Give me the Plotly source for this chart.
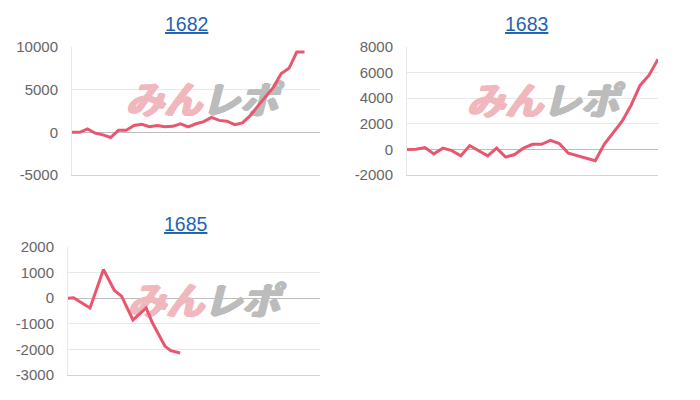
import plotly.graph_objects as go

# the page has an 8px body margin, so the figure is shrunk to fill exactly 700x400
PAD = 8
W, H = 700 - 2 * PAD, 400 - 2 * PAD

LINE_COLOR = '#e9566f'
TICK_COLOR = '#666666'
TITLE_COLOR = '#1f63b0'
GRID = '#e8e8e8'
ZERO = '#bdbdbd'
WM_PINK = '#f0b7bc'
WM_GREY = '#bcbcbc'

# 1682: one point per label, 33 labels on the axis
idx_1682 = list(range(31))
val_1682 = [0, 0, 400, -100, -300, -600, 250, 250, 800, 950, 650, 800, 650, 700, 1000, 650,
            1000, 1250, 1750, 1400, 1300, 900, 1100, 1950, 3100, 4200, 5300, 6900, 7500, 9400, 9400]
ticks_1682 = [-5000, 0, 5000, 10000]

# 1683: 29 labels, filled to the end
idx_1683 = list(range(29))
val_1683 = [0, 20, 150, -350, 100, -100, -500, 300, -100, -500, 100, -600, -400, 100, 400, 400,
            700, 450, -300, -500, -700, -880, 400, 1300, 2200, 3450, 5000, 5800, 7050]
ticks_1683 = [-2000, 0, 2000, 4000, 6000, 8000]

# 1685: positions (same 33-label scale as 1682)
pos_1685 = [0, 0.7, 2.8, 4.5, 5.9, 6.8, 8.25, 9.93, 10.7, 11.5, 12.3, 13.05, 14.25]
val_1685 = [0, 20, -380, 1120, 300, 80, -850, -380, -950, -1400, -1870, -2050, -2140]
ticks_1685 = [-3000, -2000, -1000, 0, 1000, 2000]

charts = [
    # title, x, y, x-range, ticks, plot box (page px: left, right, top, bottom), title x, watermark centre
    ('1682', idx_1682, val_1682, [0, 32], ticks_1682, (72, 320, 47, 175), 186, (202, 104)),
    ('1683', idx_1683, val_1683, [0, 28], ticks_1683, (407, 658, 47, 175), 526, (543, 105)),
    ('1685', pos_1685, val_1685, [0, 32], ticks_1685, (68, 320, 247, 375), 186, (204, 305)),
]


def px(v):
    return (v - PAD) / W


def py(v):
    return 1 - (v - PAD) / H


def wm_font(color, size=38):
    thick = ', '.join(f'{dx}px {dy}px 0 {color}' for dx, dy in
                      [(0.7, 0), (-0.7, 0), (0, 0.7), (0, -0.7), (1.4, 0), (-1.4, 0)])
    return dict(family='Noto Sans CJK JP', size=size, color=color, weight='bold',
                style='italic', shadow=thick)


fig = go.Figure()
annotations = []

for i, (title, xs, ys, xr, tv, box, tx, wm) in enumerate(charts, start=1):
    left, right, top, bottom = box
    xa = 'xaxis' if i == 1 else f'xaxis{i}'
    ya = 'yaxis' if i == 1 else f'yaxis{i}'
    xref = 'x' if i == 1 else f'x{i}'
    yref = 'y' if i == 1 else f'y{i}'
    yr = [tv[0], tv[-1]]

    # watermark sits under the line
    wx = xr[0] + (wm[0] - left) / (right - left) * (xr[1] - xr[0])
    wy = yr[0] + (bottom - wm[1]) / (bottom - top) * (yr[1] - yr[0])
    fig.add_trace(go.Scatter(x=[wx], y=[wy], mode='text', text=['みん'],
                             textposition='middle left', textfont=wm_font(WM_PINK),
                             xaxis=xref, yaxis=yref, hoverinfo='skip'))
    fig.add_trace(go.Scatter(x=[wx], y=[wy], mode='text', text=['レポ'],
                             textposition='middle right', textfont=wm_font(WM_GREY),
                             xaxis=xref, yaxis=yref, hoverinfo='skip'))

    fig.add_trace(go.Scatter(x=xs, y=ys, mode='lines', xaxis=xref, yaxis=yref,
                             line=dict(color=LINE_COLOR, width=3), hoverinfo='skip'))

    fig.update_layout(**{
        xa: dict(domain=[px(left), px(right)], range=xr, anchor=yref, showgrid=False,
                 zeroline=False, showticklabels=False, showline=True, linecolor='#d4d4d4',
                 linewidth=1, fixedrange=True, automargin=False),
        ya: dict(domain=[py(bottom), py(top)], range=yr, anchor=xref,
                 tickvals=tv, ticktext=[str(v) for v in tv],
                 showgrid=True, gridcolor=GRID, gridwidth=1, zeroline=True, zerolinecolor=ZERO,
                 zerolinewidth=1, showline=True, linecolor=GRID, ticks='',
                 ticklabelstandoff=10, tickfont=dict(size=15, color=TICK_COLOR),
                 fixedrange=True, automargin=False),
    })

    annotations.append(dict(text=f'<u>{title}</u>', x=px(tx), y=py(top - 23),
                            xref='paper', yref='paper', xanchor='center', yanchor='middle',
                            showarrow=False, font=dict(size=19.5, color=TITLE_COLOR)))

fig.update_layout(
    width=W, height=H,
    margin=dict(l=0, r=0, t=0, b=0),
    paper_bgcolor='white', plot_bgcolor='white',
    showlegend=False,
    font=dict(family='Liberation Sans, Arial, sans-serif'),
    annotations=annotations,
)

fig.write_html('out.html')
